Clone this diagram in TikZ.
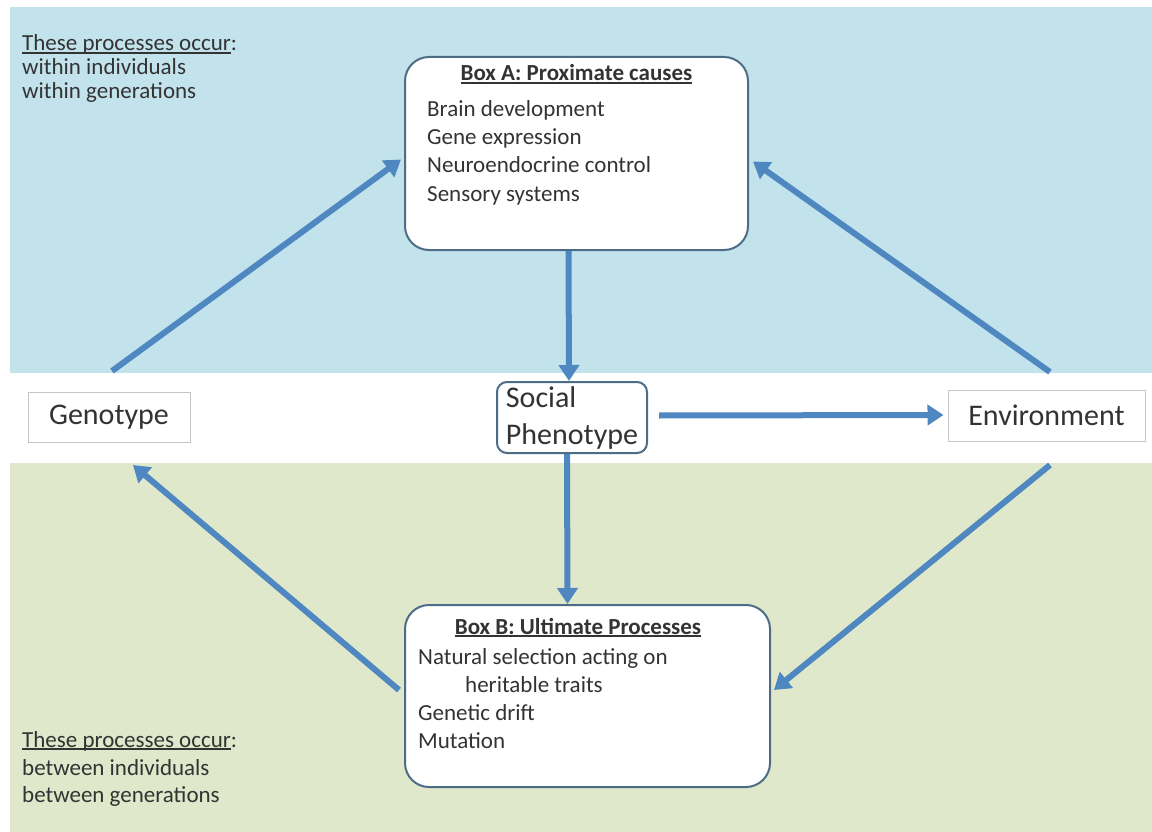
\documentclass[tikz,border=0pt]{standalone}
\usepackage{fontspec}
\setmainfont{Carlito}
\usetikzlibrary{arrows.meta}
\definecolor{bandblue}{HTML}{C3E3EC}
\definecolor{bandgreen}{HTML}{DFE8CB}
\definecolor{arrowblue}{HTML}{4F87C0}
\definecolor{boxedge}{HTML}{4D6C86}
\definecolor{txt}{HTML}{333333}
\newcommand\myul[1]{\setbox0\hbox{#1}\rlap{\rule[-2.6pt]{\wd0}{1.3pt}}\box0}
\begin{document}
\begin{tikzpicture}[x=1pt,y=-1pt,
  flow/.style={draw=arrowblue, line width=6pt, -{Triangle[width=20pt,length=16pt]}},
  bigbox/.style={draw=boxedge, line width=2pt, fill=white, rounded corners=24pt, inner sep=0pt},
  plainbox/.style={draw=gray!45, line width=1pt, fill=white, inner sep=0pt},
  socialbox/.style={draw=boxedge, line width=2pt, fill=white, rounded corners=10pt, inner sep=4pt,
    align=left, font=\fontsize{30}{37}\selectfont, text=txt},
  body/.style={font=\fontsize{23}{28}\selectfont, text=txt, inner sep=0pt, anchor=base west},
  title/.style={font=\fontsize{23}{28}\selectfont\bfseries, text=txt, inner sep=0pt, anchor=base},
  mid/.style={font=\fontsize{30}{37}\selectfont, text=txt},
]
\useasboundingbox (0,0) rectangle (1152,832);
\fill[white] (0,0) rectangle (1152,832);
\fill[bandblue] (10,7) rectangle (1152,373);
\fill[bandgreen] (10,463) rectangle (1152,832);

% main boxes
\node[bigbox, minimum width=343pt, minimum height=193pt] (boxA) at (576.5,153.5) {};
\node[bigbox, minimum width=365pt, minimum height=182pt] (boxB) at (587.5,696) {};
\node[plainbox, minimum width=162pt, minimum height=50pt, mid] (geno) at (109,417) {Genotype};
\node[plainbox, minimum width=197pt, minimum height=51pt, mid] (env) at (1046.5,415.5) {Environment};
\node[socialbox, minimum width=150pt, minimum height=71pt] (social) at (572,417.5) {Social\\Phenotype};

% Box A text
\node[title] (tA) at (576.5,81) {\myul{Box A: Proximate causes}};
\node[body] (a1) at (427,117) {Brain development};
\node[body] (a2) at (427,145) {Gene expression};
\node[body] (a3) at (427,173) {Neuroendocrine control};
\node[body] (a4) at (427,201) {Sensory systems};

% Box B text
\node[title] (tB) at (578,634) {\myul{Box B: Ultimate Processes}};
\node[body] (b1) at (418,664) {Natural selection acting on};
\node[body] (b2) at (465,692) {heritable traits};
\node[body] (b3) at (418,720) {Genetic drift};
\node[body] (b4) at (418,748) {Mutation};

% side notes
\node[body] (n1) at (22,51) {\myul{These processes occur}:};
\node[body] (n2) at (22,75) {within individuals};
\node[body] (n3) at (22,99) {within generations};
\node[body] (m1) at (22,747) {\myul{These processes occur}:};
\node[body] (m2) at (22,775) {between individuals};
\node[body] (m3) at (22,802) {between generations};

% arrows
\coordinate (gUp) at (112,371);
\coordinate (eUp) at (1050,372);
\coordinate (eDown) at (1050,465);
\coordinate (gDown) at (133,465);
\draw[flow] (gUp) -- ([shift={(-3,6)}]boxA.west);
\draw[flow] (eUp) -- ([shift={(4,8)}]boxA.east);
\draw[flow] ([xshift=-8pt]boxA.south) -- ([xshift=-3pt]social.north);
\draw[flow] ([shift={(11,-2)}]social.east) -- ([shift={(-4,-0.5)}]env.west);
\draw[flow] ([xshift=-5pt]social.south) -- ([xshift=-20pt]boxB.north);
\draw[flow] (eDown) -- ([shift={(3,-6)}]boxB.east);
\draw[flow] ([shift={(-5,-6)}]boxB.west) -- (gDown);
\end{tikzpicture}
\end{document}
